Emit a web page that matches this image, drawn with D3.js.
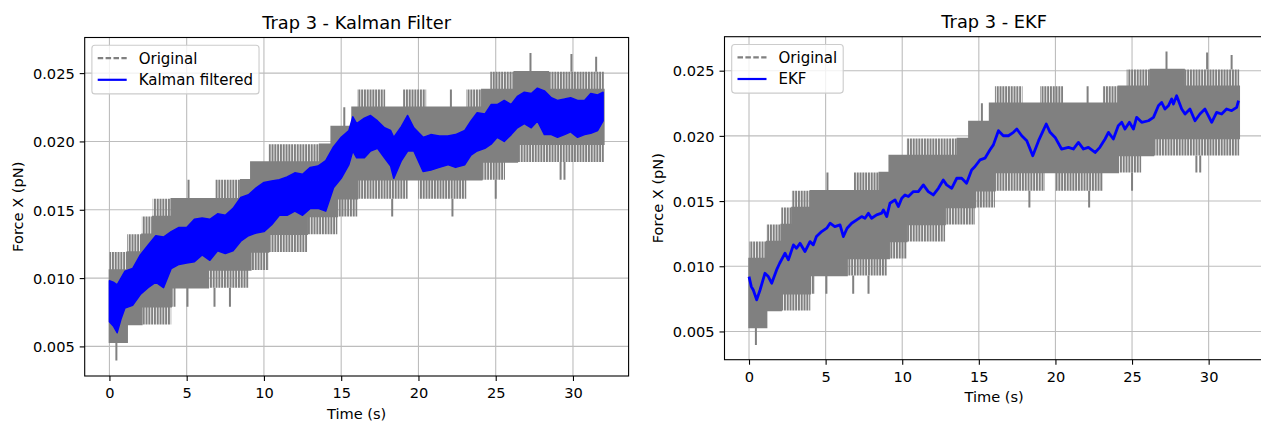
<!DOCTYPE html>
<html><head><meta charset="utf-8">
<script src="https://cdn.jsdelivr.net/npm/d3@7"></script>
<style>
body{margin:0;background:#fff;}
svg{display:block;font-family:"DejaVu Sans",sans-serif;}
</style></head><body>
<svg id="chart" width="1261" height="421"></svg>
<script>
// ---------------- data ----------------
const titles = ["Trap 3 - Kalman Filter", "Trap 3 - EKF"];
const legendLabels = [["Original", "Kalman filtered"], ["Original", "EKF"]];
const xLabel = "Time (s)";
const yLabel = "Force X (pN)";
const xTicks = [0, 5, 10, 15, 20, 25, 30];
const yTicks = [0.005, 0.010, 0.015, 0.020, 0.025];

// Original signal (quantized, noisy): envelope per time segment
const origT = [0, 1.15, 2.10, 2.80, 4.00, 4.30, 6.40, 6.85, 8.50, 9.00, 9.15, 10.30, 12.80, 13.60, 14.35, 14.75, 15.70, 16.05, 17.85, 19.00, 19.30, 20.00, 20.50, 23.10, 24.10, 24.65, 25.60, 26.20, 26.40, 28.40, 32.0];
const origFringeLo = [0.0053, 0.0066, 0.0066, 0.0066, 0.0079, 0.0093, 0.0093, 0.0093, 0.0093, 0.0106, 0.0106, 0.0119, 0.0132, 0.0132, 0.0132, 0.0145, 0.0145, 0.0158, 0.0158, 0.0158, 0.0172, 0.0158, 0.0158, 0.0172, 0.0172, 0.0172, 0.0185, 0.0185, 0.0185, 0.0185];
const origCoreLo = [0.0053, 0.0066, 0.0079, 0.0079, 0.0093, 0.0093, 0.0106, 0.0106, 0.0106, 0.0106, 0.0119, 0.0132, 0.0145, 0.0145, 0.0145, 0.0158, 0.0158, 0.0172, 0.0172, 0.0172, 0.0172, 0.0172, 0.0172, 0.0172, 0.0185, 0.0185, 0.0185, 0.0185, 0.0198, 0.0198];
const origCoreHi = [0.0106, 0.0119, 0.0132, 0.0145, 0.0158, 0.0158, 0.0158, 0.0158, 0.0172, 0.0172, 0.0185, 0.0185, 0.0185, 0.0198, 0.0211, 0.0211, 0.0225, 0.0225, 0.0225, 0.0225, 0.0225, 0.0225, 0.0225, 0.0225, 0.0238, 0.0238, 0.0238, 0.0251, 0.0251, 0.0238];
const origFringeHi = [0.0119, 0.0132, 0.0145, 0.0158, 0.0158, 0.0158, 0.0158, 0.0172, 0.0172, 0.0172, 0.0185, 0.0198, 0.0198, 0.0198, 0.0211, 0.0211, 0.0225, 0.0238, 0.0225, 0.0238, 0.0238, 0.0238, 0.0225, 0.0238, 0.0238, 0.0251, 0.0251, 0.0251, 0.0251, 0.0251];
// isolated excursions of the original signal
const origSpikeT = [0.45, 5.05, 5.12, 6.80, 7.80, 15.20, 18.30, 22.10, 22.20, 25.00, 27.25, 29.20, 29.45, 29.90, 31.50];
const origSpikeFrom = [0.0053, 0.0093, 0.0158, 0.0093, 0.0093, 0.0211, 0.0158, 0.0225, 0.0158, 0.0172, 0.0251, 0.0185, 0.0185, 0.0251, 0.0251];
const origSpikeTo = [0.00396, 0.0079, 0.0172, 0.0079, 0.0079, 0.0225, 0.0145, 0.0238, 0.0145, 0.0158, 0.02648, 0.0172, 0.0172, 0.0264, 0.0262];

// Kalman filtered: noisy band (low / high envelope)
const kalmanT = [0, 0.25, 0.5, 0.75, 1.0, 1.5, 2.0, 2.5, 3.0, 3.5, 4.0, 4.5, 5.0, 5.5, 6.0, 6.5, 7.0, 7.5, 8.0, 8.5, 9.0, 9.5, 10.0, 10.5, 11.0, 11.5, 12.0, 12.5, 13.0, 13.5, 14.0, 14.5, 15.0, 15.5, 15.75, 16.0, 16.5, 16.9, 17.35, 17.8, 18.2, 18.4, 18.9, 19.3, 19.7, 20.3, 20.8, 21.35, 21.9, 22.4, 23.0, 23.4, 23.8, 24.3, 24.7, 25.1, 25.55, 26.0, 26.4, 26.85, 27.3, 27.7, 28.15, 28.6, 29.0, 29.45, 29.85, 30.3, 30.75, 31.15, 31.6, 31.95];
const kalmanLo = [0.0068, 0.0065, 0.0060, 0.0070, 0.0078, 0.0080, 0.0088, 0.0093, 0.0097, 0.0093, 0.0107, 0.0110, 0.0111, 0.0112, 0.0117, 0.0113, 0.0120, 0.0118, 0.0120, 0.0127, 0.0131, 0.0133, 0.0134, 0.0139, 0.0146, 0.0146, 0.0149, 0.0146, 0.0151, 0.0151, 0.0149, 0.0166, 0.0173, 0.0183, 0.0193, 0.0188, 0.0188, 0.0193, 0.0195, 0.0188, 0.0182, 0.0173, 0.0186, 0.0193, 0.0193, 0.0178, 0.0179, 0.0181, 0.0183, 0.0181, 0.0183, 0.0190, 0.0193, 0.0195, 0.0198, 0.0203, 0.0200, 0.0205, 0.0210, 0.0213, 0.0210, 0.0215, 0.0205, 0.0205, 0.0203, 0.0205, 0.0207, 0.0203, 0.0205, 0.0206, 0.0208, 0.0215];
const kalmanHi = [0.0098, 0.0097, 0.0095, 0.0100, 0.0105, 0.0107, 0.0117, 0.0124, 0.0131, 0.0130, 0.0134, 0.0137, 0.0137, 0.0143, 0.0144, 0.0143, 0.0147, 0.0146, 0.0151, 0.0159, 0.0161, 0.0166, 0.0170, 0.0171, 0.0172, 0.0174, 0.0177, 0.0176, 0.0181, 0.0182, 0.0186, 0.0196, 0.0203, 0.0208, 0.0218, 0.0213, 0.0217, 0.0219, 0.0215, 0.0210, 0.0208, 0.0203, 0.0211, 0.0219, 0.0210, 0.0203, 0.0205, 0.0204, 0.0204, 0.0205, 0.0208, 0.0215, 0.0221, 0.0220, 0.0227, 0.0227, 0.0230, 0.0227, 0.0233, 0.0236, 0.0235, 0.0239, 0.0237, 0.0232, 0.0230, 0.0231, 0.0232, 0.0230, 0.0230, 0.0235, 0.0234, 0.0236];

// EKF estimate
const ekfT = [0, 0.15, 0.28, 0.5, 0.72, 1.04, 1.26, 1.48, 1.8, 2.0, 2.35, 2.57, 2.9, 3.1, 3.33, 3.65, 3.98, 4.2, 4.4, 4.74, 5.07, 5.29, 5.6, 5.94, 6.16, 6.4, 6.7, 7.03, 7.35, 7.57, 7.79, 8.0, 8.33, 8.66, 8.77, 8.99, 9.2, 9.53, 9.75, 9.97, 10.18, 10.4, 10.73, 11.05, 11.38, 11.7, 12.03, 12.36, 12.68, 12.9, 13.23, 13.56, 13.88, 14.2, 14.53, 14.75, 15.08, 15.4, 15.73, 15.95, 16.28, 16.6, 16.93, 17.26, 17.48, 17.8, 18.13, 18.52, 18.9, 19.2, 19.4, 19.65, 19.98, 20.4, 20.85, 21.17, 21.5, 21.83, 22.15, 22.59, 22.9, 23.24, 23.46, 23.78, 24.1, 24.33, 24.54, 24.83, 25.09, 25.3, 25.63, 26.07, 26.4, 26.72, 26.93, 27.15, 27.37, 27.59, 27.7, 27.91, 28.24, 28.46, 28.78, 29.11, 29.43, 29.76, 30.2, 30.52, 30.85, 31.17, 31.5, 31.83, 31.95];
const ekfV = [0.00921, 0.00844, 0.00818, 0.00742, 0.00818, 0.00946, 0.00921, 0.00870, 0.00972, 0.01023, 0.01100, 0.01049, 0.01164, 0.01138, 0.01176, 0.01113, 0.01189, 0.01164, 0.01228, 0.01266, 0.01292, 0.01330, 0.01304, 0.01317, 0.01228, 0.01292, 0.01330, 0.01356, 0.01381, 0.01368, 0.01407, 0.01368, 0.01394, 0.01407, 0.01432, 0.01381, 0.01483, 0.01509, 0.01458, 0.01522, 0.01547, 0.01535, 0.01573, 0.01573, 0.01624, 0.01573, 0.01547, 0.01598, 0.01662, 0.01624, 0.01598, 0.01675, 0.01675, 0.01637, 0.01739, 0.01765, 0.01816, 0.01829, 0.01893, 0.01931, 0.02040, 0.02001, 0.02001, 0.02027, 0.02052, 0.02001, 0.01963, 0.01848, 0.01963, 0.02040, 0.02091, 0.02027, 0.01988, 0.01899, 0.01912, 0.01899, 0.01950, 0.01899, 0.01912, 0.01873, 0.01912, 0.01976, 0.02027, 0.01976, 0.02078, 0.02104, 0.02052, 0.02104, 0.02052, 0.02142, 0.02104, 0.02116, 0.02142, 0.02231, 0.02257, 0.02206, 0.02231, 0.02283, 0.02244, 0.02308, 0.02206, 0.02168, 0.02206, 0.02116, 0.02168, 0.02206, 0.02104, 0.02180, 0.02168, 0.02206, 0.02193, 0.02219, 0.02270];

// ---------------- drawing ----------------
const svg = d3.select("#chart");
const FS = 14.6, LFS = 15, TFS = 17.8;
const GRAY = "#808080", BLUE = "#0000ff";

const defs = svg.append("defs");
defs.append("pattern").attr("id", "stripes").attr("patternUnits", "userSpaceOnUse")
  .attr("width", 2.8).attr("height", 6)
  .append("rect").attr("x", 0).attr("y", 0).attr("width", 2.0).attr("height", 6).attr("fill", GRAY);

const panels = [
  {x0: 84.7, x1: 628.6, y0: 37.5, y1: 376, kind: "kalman"},
  {x0: 724.5, x1: 1263.8, y0: 36.7, y1: 359.7, kind: "ekf"}
];

const tExt = d3.extent(origT);
const tPad = 0.05 * (tExt[1] - tExt[0]);
const allV = [].concat(origFringeLo, origFringeHi, origSpikeFrom, origSpikeTo, kalmanLo, kalmanHi, ekfV);
const vExt = d3.extent(allV);
const vPad = 0.05 * (vExt[1] - vExt[0]);

const segs = origT.slice(0, -1).map((t, j) => ({t, fl: origFringeLo[j], cl: origCoreLo[j], ch: origCoreHi[j], fh: origFringeHi[j]}));
segs.push(Object.assign({}, segs[segs.length - 1], {t: origT[origT.length - 1]}));
const spikes = origSpikeT.map((t, j) => ({t, a: origSpikeFrom[j], b: origSpikeTo[j]}));
const kalman = kalmanT.map((t, j) => ({t, lo: kalmanLo[j], hi: kalmanHi[j]}));
const ekf = ekfT.map((t, j) => ({t, v: ekfV[j]}));

panels.forEach((p, i) => {
  const x = d3.scaleLinear().domain([tExt[0] - tPad, tExt[1] + tPad]).range([p.x0, p.x1]);
  const y = d3.scaleLinear().domain([vExt[0] - vPad, vExt[1] + vPad]).range([p.y1, p.y0]);
  const g = svg.append("g").attr("class", "panel-" + i);

  defs.append("clipPath").attr("id", "clip" + i).append("rect")
    .attr("x", p.x0).attr("y", p.y0).attr("width", p.x1 - p.x0).attr("height", p.y1 - p.y0);

  // grid
  const grid = g.append("g").attr("class", "grid").attr("stroke", "#bdbdbd").attr("stroke-width", 1.1);
  grid.selectAll("line.gx").data(xTicks).join("line").attr("class", "gx")
    .attr("x1", d => x(d)).attr("x2", d => x(d)).attr("y1", p.y0).attr("y2", p.y1);
  grid.selectAll("line.gy").data(yTicks).join("line").attr("class", "gy")
    .attr("x1", p.x0).attr("x2", p.x1).attr("y1", d => y(d)).attr("y2", d => y(d));

  const plot = g.append("g").attr("clip-path", "url(#clip" + i + ")");

  // original signal
  const fringe = d3.area().curve(d3.curveStepAfter).x(d => x(d.t)).y0(d => y(d.fl)).y1(d => y(d.fh));
  const core = d3.area().curve(d3.curveStepAfter).x(d => x(d.t)).y0(d => y(d.cl)).y1(d => y(d.ch));
  plot.append("path").attr("class", "orig-fringe").attr("d", fringe(segs)).attr("fill", "url(#stripes)");
  plot.append("path").attr("class", "orig-core").attr("d", core(segs)).attr("fill", GRAY)
    .attr("stroke", GRAY).attr("stroke-width", 1.5);
  plot.selectAll("line.spike").data(spikes).join("line").attr("class", "spike")
    .attr("x1", d => x(d.t)).attr("x2", d => x(d.t)).attr("y1", d => y(d.a)).attr("y2", d => y(d.b))
    .attr("stroke", GRAY).attr("stroke-width", 2);

  if (p.kind === "kalman") {
    const band = d3.area().x(d => x(d.t)).y0(d => y(d.lo)).y1(d => y(d.hi));
    plot.append("path").attr("class", "kalman").attr("d", band(kalman))
      .attr("fill", BLUE).attr("stroke", BLUE).attr("stroke-width", 1.5).attr("stroke-linejoin", "round");
  } else {
    const line = d3.line().x(d => x(d.t)).y(d => y(d.v));
    plot.append("path").attr("class", "ekf").attr("d", line(ekf))
      .attr("fill", "none").attr("stroke", BLUE).attr("stroke-width", 2.8).attr("stroke-linejoin", "round");
  }

  // axes
  const ax = g.append("g").attr("transform", `translate(0,${p.y1})`)
    .call(d3.axisBottom(x).tickValues(xTicks).tickSize(5).tickPadding(7).tickFormat(d3.format("d")));
  const ay = g.append("g").attr("transform", `translate(${p.x0},0)`)
    .call(d3.axisLeft(y).tickValues(yTicks).tickSize(5).tickPadding(5).tickFormat(d3.format(".3f")));
  [ax, ay].forEach(a => {
    a.select(".domain").remove();
    a.selectAll(".tick line").attr("stroke", "#000").attr("stroke-width", 1.1);
    a.selectAll(".tick text").attr("fill", "#000").style("font-size", FS + "px").style("font-family", "DejaVu Sans");
  });
  ay.selectAll(".tick text").attr("dy", "0.36em");

  // frame
  g.append("rect").attr("x", p.x0).attr("y", p.y0).attr("width", p.x1 - p.x0).attr("height", p.y1 - p.y0)
    .attr("fill", "none").attr("stroke", "#000").attr("stroke-width", 1.1);

  // title and labels
  const cx = (p.x0 + p.x1) / 2;
  g.append("text").attr("x", cx).attr("y", p.y0 - 8.6).attr("text-anchor", "middle")
    .style("font-size", TFS + "px").attr("fill", "#000").text(titles[i]);
  g.append("text").attr("x", cx).attr("y", p.y1 + 42.5).attr("text-anchor", "middle")
    .style("font-size", FS + "px").attr("fill", "#000").text(xLabel);
  g.append("text").attr("transform", `translate(${p.x0 - 62},${(p.y0 + p.y1) / 2}) rotate(-90)`)
    .attr("text-anchor", "middle").style("font-size", FS + "px").attr("fill", "#000").text(yLabel);

  // legend
  const lx = p.x0 + 7.2, ly = p.y0 + 7.8;
  const leg = g.append("g").attr("class", "legend");
  const box = leg.append("rect").attr("x", lx).attr("y", ly).attr("rx", 3).attr("ry", 3)
    .attr("height", 48.6).attr("fill", "#fff").attr("fill-opacity", 0.8)
    .attr("stroke", "#cccccc").attr("stroke-width", 1.1);
  const hx0 = lx + 5.8, hx1 = hx0 + 29, tx = hx1 + 12;
  const styles = [{color: GRAY, dash: "5.5,2.4"}, {color: BLUE, dash: null}];
  let maxW = 0;
  legendLabels[i].forEach((lab, j) => {
    const cy = ly + 12.8 + j * 21.7;
    leg.append("line").attr("x1", hx0).attr("x2", hx1).attr("y1", cy).attr("y2", cy)
      .attr("stroke", styles[j].color).attr("stroke-width", 2.2)
      .attr("stroke-dasharray", styles[j].dash);
    const t = leg.append("text").attr("x", tx).attr("y", cy).attr("dy", "0.36em")
      .style("font-size", LFS + "px").attr("fill", "#000").text(lab);
    maxW = Math.max(maxW, t.node().getComputedTextLength());
  });
  box.attr("width", tx + maxW + 6 - lx);
});
</script>
</body></html>
